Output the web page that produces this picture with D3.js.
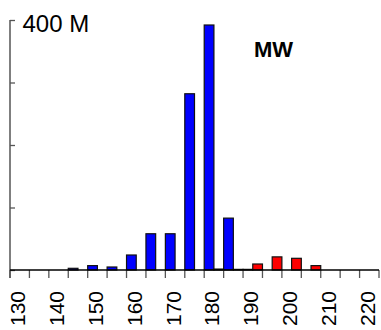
<!DOCTYPE html>
<html>
<head>
<meta charset="utf-8">
<script src="https://cdn.jsdelivr.net/npm/d3@7"></script>
<style>
  html, body { margin: 0; padding: 0; background: #fff; }
  svg { display: block; font-family: "Liberation Sans", Arial, sans-serif; }
</style>
</head>
<body>
<svg id="chart" width="381" height="330"></svg>
<script>
// Bin labels (slot centres)
const categories = [130,135,140,145,150,155,160,165,170,175,180,185,190,195,200,205,210,215,220];
// Series values, in millions
const blueValues = [0,0,0,2.7,7,4.8,24,58,58,282,392,83,1,0,0,0,0,0,0];
const redValues  = [0,0,0,0,0,0,0,0,0,0,1.5,1,9.6,21,18.7,7,0,0,0];
const seriesNames = ["blue","red"];
const seriesColors = ["#0000ff","#ff0000"];
const xTickLabels = [130,140,150,160,170,180,190,200,210,220];
const yTickValues = [0,100,200,300,400];
const yLabel = "400 M";
const title = "MW";

const svg = d3.select("#chart");
const x0 = 10, x1 = 379, yBase = 270, yTop = 20;

const x = d3.scaleBand().domain(categories).range([x0, x1]).padding(0);
const xs = d3.scaleBand().domain(seriesNames).range([0, x.bandwidth()]).padding(0);
const y = d3.scaleLinear().domain([0, 400]).range([yBase, yTop]);

const rows = categories.map((c, i) => ({cat: c, vals: [blueValues[i], redValues[i]]}));

// bars
const g = svg.append("g");
rows.forEach(r => {
  r.vals.forEach((v, j) => {
    if (v <= 0) return;
    g.append("rect")
      .attr("x", x(r.cat) + xs(seriesNames[j]))
      .attr("y", y(v))
      .attr("width", xs.bandwidth())
      .attr("height", yBase - y(v))
      .attr("fill", seriesColors[j])
      .attr("stroke", "#111")
      .attr("stroke-width", 1.2);
  });
});

// x tick marks at slot boundaries
const bounds = categories.map(c => x(c)).concat([x1]);
svg.append("g").selectAll("line").data(bounds).join("line")
  .attr("x1", d => d).attr("x2", d => d)
  .attr("y1", yBase).attr("y2", yBase + 8)
  .attr("stroke", "#555").attr("stroke-width", 1.3);

// x labels via axis
const xAxis = d3.axisBottom(x).tickValues(xTickLabels).tickSize(0);
const gx = svg.append("g").attr("transform", `translate(0,${yBase})`).call(xAxis);
gx.select(".domain").remove();
gx.selectAll("text")
  .attr("transform", "rotate(-90)")
  .attr("x", -21)
  .attr("y", 5.5)
  .attr("dy", 0)
  .attr("text-anchor", "end")
  .attr("font-size", 21)
  .attr("font-family", "Liberation Sans, Arial, sans-serif")
  .attr("fill", "#000");

// y axis (ticks inward)
const yAxis = d3.axisRight(y).tickValues(yTickValues).tickSize(5).tickFormat("");
const gy = svg.append("g").attr("transform", `translate(${x0},0)`).call(yAxis);
gy.select(".domain").remove();
gy.selectAll(".tick line").attr("stroke", "#555").attr("stroke-width", 1.3);
svg.append("line")
  .attr("x1", x0).attr("x2", x0)
  .attr("y1", y(400)).attr("y2", yBase + 8)
  .attr("stroke", "#555").attr("stroke-width", 1.5);

// baseline
svg.append("line")
  .attr("x1", x0).attr("x2", x1)
  .attr("y1", yBase).attr("y2", yBase)
  .attr("stroke", "#000").attr("stroke-width", 1.5);

// y label
svg.append("text")
  .attr("x", 22.5).attr("y", 31.7)
  .attr("font-size", 24)
  .attr("fill", "#000")
  .text(yLabel);

// title
svg.append("text")
  .attr("x", 254).attr("y", 56.5)
  .attr("font-size", 22)
  .attr("font-weight", "bold")
  .attr("fill", "#000")
  .text(title);
</script>
</body>
</html>
